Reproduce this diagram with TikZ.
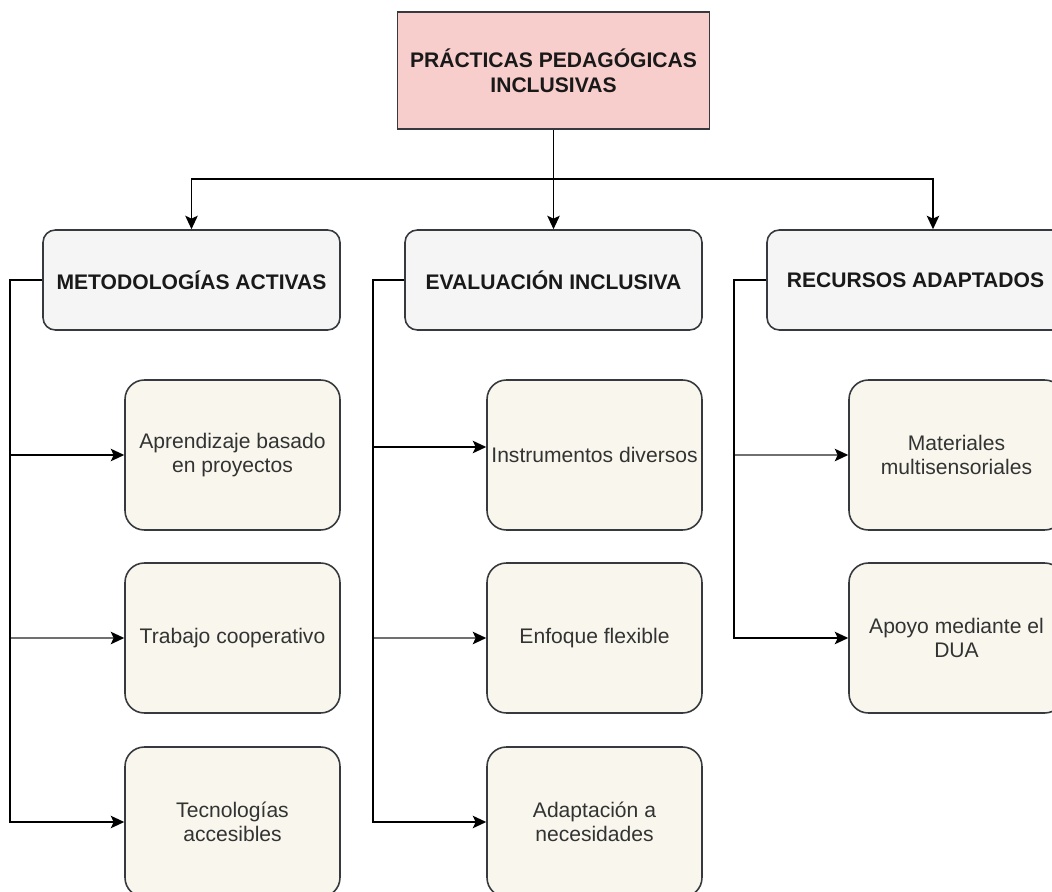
\documentclass[tikz,border=0pt]{standalone}
\usepackage{fontspec}
\setmainfont{Liberation Sans}
\usetikzlibrary{arrows.meta, positioning, calc}
\definecolor{rootfill}{HTML}{F8CECC}
\definecolor{catfill}{HTML}{F5F5F5}
\definecolor{itemfill}{HTML}{F9F7ED}
\definecolor{boxline}{HTML}{36393D}
\definecolor{itemtext}{HTML}{333333}
\definecolor{softline}{HTML}{707070}

\begin{document}
\begin{tikzpicture}[x=0.02cm, y=-0.02cm,
    rootbox/.style={rectangle, draw=boxline, fill=rootfill, line width=0.9pt, minimum width=6.24cm, minimum height=2.34cm, inner sep=2pt, align=center, font=\fontsize{12}{14}\selectfont\bfseries, text=black!90},
    catbox/.style={rectangle, rounded corners=7pt, draw=boxline, fill=catfill, line width=0.9pt, minimum width=5.94cm, minimum height=2cm, inner sep=2pt, align=center, font=\fontsize{12}{14}\selectfont\bfseries, text=black!90},
    itembox/.style={rectangle, rounded corners=11pt, draw=boxline, fill=itemfill, line width=0.9pt, minimum width=4.3cm, minimum height=3cm, inner sep=2pt, align=center, font=\fontsize{12}{14}\selectfont, text=itemtext},
    arr/.style={-{Stealth[length=0.27cm, width=0.25cm, inset=0.06cm]}, line width=1pt},
    softarr/.style={-{Stealth[length=0.27cm, width=0.25cm, inset=0.06cm, color=black]}, line width=1.1pt, softline}]

  \useasboundingbox (0,0) rectangle (1052,892);
  \clip (0,0) rectangle (1052,892);

  % Root
  \node[rootbox] (root) at (553.5,70.5) {PRÁCTICAS PEDAGÓGICAS\\INCLUSIVAS};

  % Categories
  \node[catbox] (met) at (191.5,280) {METODOLOGÍAS ACTIVAS};
  \node[catbox] (eva) at (553.5,280) {EVALUACIÓN INCLUSIVA};
  \node[catbox] (rec) at (915.5,280) {RECURSOS ADAPTADOS};

  % Items under each category
  \node[itembox] (met1) at (232.5,455) {Aprendizaje basado\\en proyectos};
  \node[itembox] (met2) at (232.5,638) {Trabajo cooperativo};
  \node[itembox] (met3) at (232.5,822) {Tecnologías\\accesibles};

  \node[itembox] (eva1) at (594.5,455) {Instrumentos diversos};
  \node[itembox] (eva2) at (594.5,638) {Enfoque flexible};
  \node[itembox] (eva3) at (594.5,822) {Adaptación a\\necesidades};

  \node[itembox] (rec1) at (956.5,455) {Materiales\\multisensoriales};
  \node[itembox] (rec2) at (956.5,638) {Apoyo mediante el\\DUA};

  % Root to categories
  \coordinate (bus) at (553.5,179);
  \draw[arr] (root.south) -- (eva.north);
  \draw[arr] (bus) -| (met.north);
  \draw[arr] (bus) -| ([xshift=0.35cm]rec.north);

  % Categories to items
  \coordinate (metbus) at (10,280);
  \coordinate (evabus) at (373,280);
  \coordinate (recbus) at (734,280);

  \draw[arr] (met.west) -- (metbus) |- (met1);
  \draw[softarr] (metbus) |- (met2);
  \draw[arr] (met.west) -- (metbus) |- (met3);

  \draw[arr] (eva.west) -- (evabus) |- ([yshift=0.16cm]eva1.west);
  \draw[softarr] (evabus) |- (eva2);
  \draw[arr] (eva.west) -- (evabus) |- (eva3);

  \draw[softarr] (recbus) |- (rec1);
  \draw[arr] (rec.west) -- (recbus) |- (rec2);
\end{tikzpicture}
\end{document}
